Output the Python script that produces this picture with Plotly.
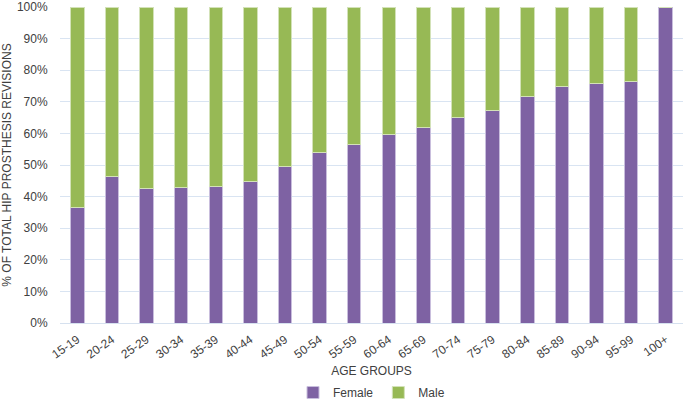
import plotly.graph_objects as go

age_groups = ["15-19", "20-24", "25-29", "30-34", "35-39", "40-44", "45-49", "50-54",
              "55-59", "60-64", "65-69", "70-74", "75-79", "80-84", "85-89", "90-94",
              "95-99", "100+"]
female_pct = [36.6, 46.3, 42.7, 42.8, 43.1, 44.7, 49.4, 54.1, 56.5, 59.7, 62.0, 65.1,
              67.3, 71.6, 74.7, 75.8, 76.5, 100.0]
male_pct = [round(100 - f, 1) for f in female_pct]
y_ticks = [0, 10, 20, 30, 40, 50, 60, 70, 80, 90, 100]
y_tick_labels = [f"{v}%" for v in y_ticks]

fig = go.Figure()
fig.add_trace(go.Bar(
    x=age_groups, y=female_pct, name="Female",
    marker=dict(color="#7e62a3", line=dict(color="#c9bedd", width=1)),
))
fig.add_trace(go.Bar(
    x=age_groups, y=male_pct, name="Male",
    marker=dict(color="#97b955", line=dict(color="#d3e2b8", width=1)),
))

font = "Liberation Sans, Arial, sans-serif"
fig.update_layout(
    barmode="stack",
    bargap=0.61,
    width=685, height=400,
    margin=dict(l=60, r=2, t=7, b=77, autoexpand=False),
    paper_bgcolor="white", plot_bgcolor="white",
    font=dict(family=font, size=12, color="#404040"),
    showlegend=True,
    legend=dict(orientation="h", x=0.5, xanchor="center", y=-0.22, yanchor="middle",
                font=dict(size=12, color="#404040"), traceorder="normal",
                itemwidth=30),
    xaxis=dict(
        automargin=False,
        tickangle=-35, tickfont=dict(size=12, color="#404040"),
        ticks="outside", ticklen=4, tickcolor="rgba(0,0,0,0)",
        title=dict(text="AGE GROUPS", font=dict(size=12, color="#404040"), standoff=6),
        showline=True, linecolor="#d6e1ef", linewidth=1,
        showgrid=False,
    ),
    yaxis=dict(
        automargin=False,
        range=[0, 100], tickvals=y_ticks, ticktext=y_tick_labels,
        tickfont=dict(size=12, color="#404040"),
        ticklabeloverflow="allow",
        ticks="outside", ticklen=9, tickcolor="rgba(0,0,0,0)",
        title=dict(text="% OF TOTAL HIP PROSTHESIS REVISIONS",
                   font=dict(size=12, color="#404040"), standoff=3),
        showgrid=True, gridcolor="#d9e4f2", gridwidth=1,
        zeroline=False, showline=False,
    ),
)

fig.write_html("out.html", config={"displayModeBar": False},
               post_script="document.body.style.margin='0px';")
